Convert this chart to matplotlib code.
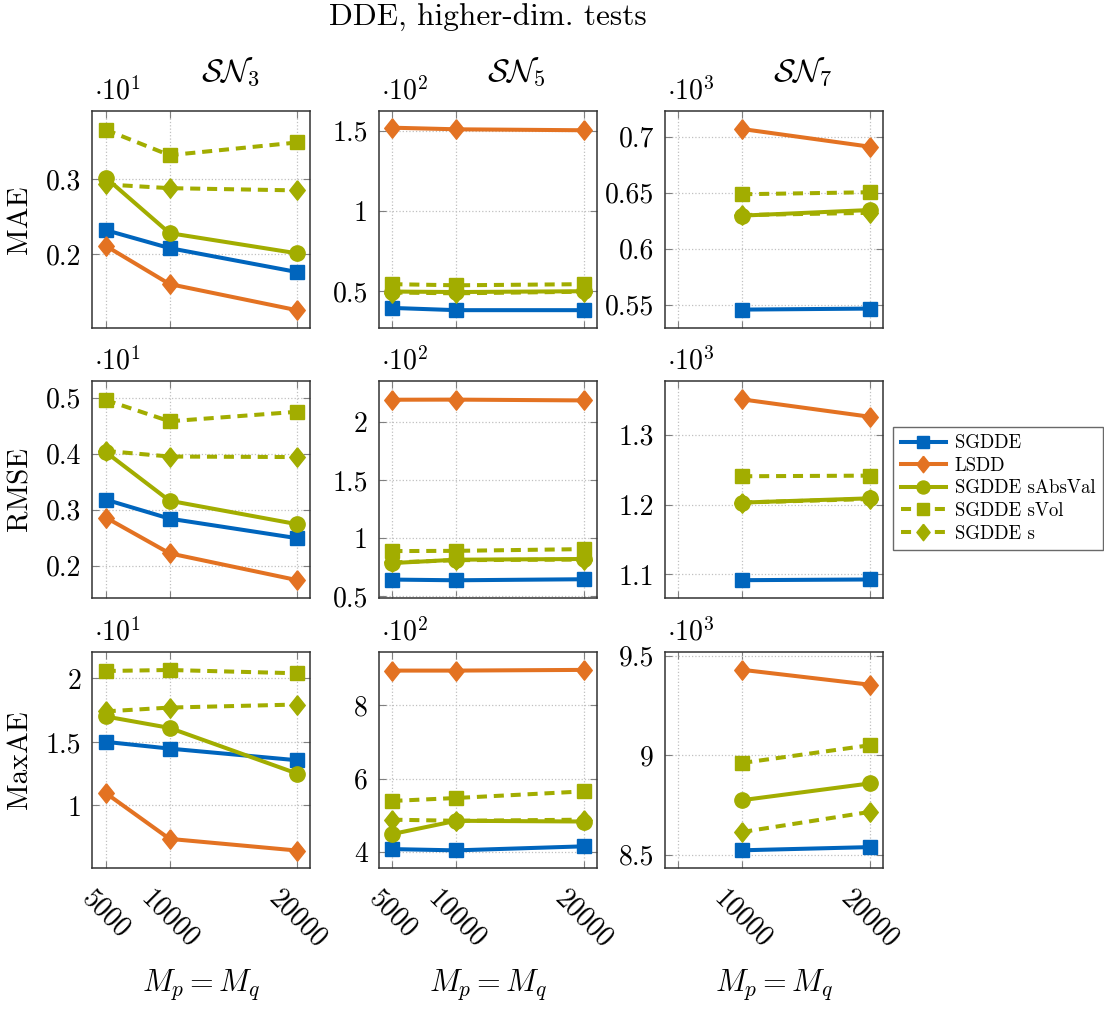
import matplotlib
matplotlib.use('Agg')
import matplotlib.pyplot as plt
from matplotlib.ticker import MultipleLocator, FuncFormatter

plt.rcParams['font.family'] = 'cmr10'
plt.rcParams['mathtext.fontset'] = 'cm'
plt.rcParams['axes.formatter.use_mathtext'] = True

# sample sizes
mp = [5000, 10000, 20000]
mp_sn7 = [10000, 20000]

methods = ['SGDDE', 'LSDD', 'SGDDE sAbsVal', 'SGDDE sVol', 'SGDDE s']
metrics = ['MAE', 'RMSE', 'MaxAE']
col_titles = [r'$\mathcal{SN}_3$', r'$\mathcal{SN}_5$', r'$\mathcal{SN}_7$']

# errors, one list per method (same order as methods)
mae_sn3 = [[2.32, 2.08, 1.76], [2.11, 1.60, 1.25], [3.02, 2.28, 2.01],
           [3.66, 3.32, 3.49], [2.93, 2.88, 2.85]]
mae_sn5 = [[39.6, 38.2, 38.2], [151.9, 150.9, 150.3], [49.8, 49.5, 50.0],
           [54.4, 53.7, 54.4], [49.2, 48.7, 49.7]]
mae_sn7 = [[545.5, 546.4], [706.9, 691.1], [629.5, 634.5],
           [648.6, 650.4], [630.0, 632.0]]

rmse_sn3 = [[3.18, 2.84, 2.49], [2.86, 2.22, 1.74], [4.03, 3.16, 2.74],
            [4.96, 4.58, 4.75], [4.05, 3.95, 3.94]]
rmse_sn5 = [[64.3, 63.7, 64.6], [218.9, 219.0, 218.3], [78.5, 81.4, 82.0],
            [88.8, 89.0, 90.5], [79.0, 81.0, 81.5]]
rmse_sn7 = [[1091.8, 1092.8], [1350.7, 1325.8], [1202.9, 1209.0],
            [1240.6, 1241.5], [1203.0, 1208.0]]

maxae_sn3 = [[15.0, 14.47, 13.55], [10.97, 7.36, 6.44], [17.0, 16.1, 12.5],
             [20.58, 20.66, 20.4], [17.4, 17.7, 17.94]]
maxae_sn5 = [[408, 404.5, 415.5], [893.6, 893.6, 895.5], [449, 485, 483],
             [539, 547, 565], [488, 485, 488]]
maxae_sn7 = [[8522, 8538], [9429, 9354], [8774, 8858],
             [8961, 9050], [8614, 8715]]

panels = [[mae_sn3, mae_sn5, mae_sn7],
          [rmse_sn3, rmse_sn5, rmse_sn7],
          [maxae_sn3, maxae_sn5, maxae_sn7]]

# axis ranges / tick steps in the scaled units shown on the axis
ylims = [[(0.102, 0.391), (0.274, 1.623), (0.5295, 0.723)],
         [(0.143, 0.530), (0.489, 2.35), (1.067, 1.377)],
         [(0.505, 2.21), (3.56, 9.45), (8.432, 9.52)]]
ysteps = [[0.1, 0.5, 0.05],
          [0.1, 0.5, 0.1],
          [0.5, 2, 0.5]]

# pgfplots-like diamond (wider than matplotlib's 'd')
diamond = [(0, 1), (0.8, 0), (0, -1), (-0.8, 0), (0, 1)]

green = '#A2AD00'
dash = (0, (2.5, 1.7))
styles = [
    dict(color='#0065BD', marker='s', ms=10.5, ls='-'),
    dict(color='#E37222', marker=diamond, ms=14, ls='-'),
    dict(color=green, marker='o', ms=11, ls='-'),
    dict(color=green, marker='s', ms=10.5, ls=dash),
    dict(color=green, marker=diamond, ms=14, ls=dash),
]

W, H = 1104, 1009
fig = plt.figure(figsize=(W / 100, H / 100), dpi=100)

lefts = [92.3, 379, 665]
tops = [111, 381, 651.7]
aw, ah = 217.5, 216.5

handles = []
for i in range(3):
    for j in range(3):
        ax = fig.add_axes([lefts[j] / W, 1 - (tops[i] + ah) / H, aw / W, ah / H])
        xs = mp if j < 2 else mp_sn7
        scale = 10 ** (j + 1)
        for k, name in enumerate(methods):
            ln, = ax.plot(xs, panels[i][j][k], lw=2.9, label=name, **styles[k])
            if i == 0 and j == 0:
                handles.append(ln)

        ax.set_xlim(3950, 20990)
        ax.set_xticks(mp)
        lo, hi = ylims[i][j]
        ax.set_ylim(lo * scale, hi * scale)
        ax.yaxis.set_major_locator(MultipleLocator(ysteps[i][j] * scale))
        ax.yaxis.set_major_formatter(
            FuncFormatter(lambda v, p, s=scale: '%g' % round(v / s, 4)))

        ax.grid(True, ls=':', color='#c0c0c0', lw=0.9)
        ax.tick_params(direction='in', top=True, right=True, length=5,
                       color='#808080', labelsize=20)
        ax.tick_params(axis='y', pad=8)
        for sp in ax.spines.values():
            sp.set_color('#333333')
            sp.set_linewidth(1.1)

        ax.text(0.01, 1.025, r'$\cdot 10^{%d}$' % (j + 1), transform=ax.transAxes,
                fontsize=20, ha='left', va='bottom')

        if i == 0:
            ax.text(0.634, 1.18, col_titles[j], transform=ax.transAxes,
                    fontsize=23, ha='center', va='center')
        if j == 0:
            ax.set_ylabel(metrics[i], fontsize=21)
            ax.yaxis.set_label_coords(-(92.3 - 33) / aw, 0.5)

        if i == 2:
            labels = ['5000', '10000', '20000'] if j < 2 else ['', '10000', '20000']
            ax.set_xticklabels(labels, rotation=-45, ha='center', va='top')
            ax.tick_params(axis='x', pad=12)
            ax.text(0.5, -(985 - (tops[i] + ah)) / ah, r'$M_p = M_q$',
                    transform=ax.transAxes, fontsize=22, ha='center', va='center')
        else:
            ax.tick_params(axis='x', labelbottom=False)

fig.text(488 / W, 1 - 18 / H, 'DDE, higher-dim. tests', fontsize=22.5,
         ha='center', va='center')

leg = fig.legend(handles, methods, loc='upper left',
                 bbox_to_anchor=(893 / W, 1 - 426.7 / H), fontsize=13.5,
                 frameon=True, fancybox=False, edgecolor='#444444',
                 handlelength=2.4, labelspacing=0.25, borderpad=0.4,
                 handletextpad=0.5, borderaxespad=0, markerscale=0.85)
leg.get_frame().set_linewidth(1.0)

fig.savefig('out.png', dpi=100)
